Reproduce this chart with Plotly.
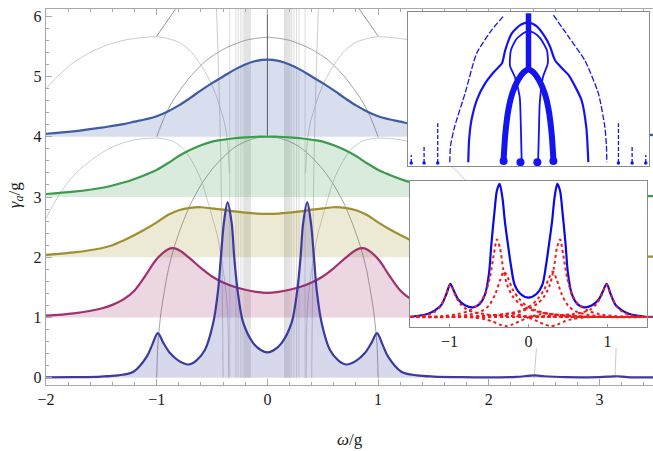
import plotly.graph_objects as go

# ---------------- main panel data ----------------
BOT_X = [-2.0, -1.75, -1.5, -1.35, -1.21, -1.09, -1.04, -0.99, -0.94, -0.88, -0.8, -0.715, -0.64, -0.565, -0.49, -0.445, -0.42, -0.393, -0.36, -0.323, -0.30, -0.27, -0.218, -0.128, -0.06,
         0.0, 0.06, 0.128, 0.218, 0.27, 0.30, 0.323, 0.36, 0.393, 0.42, 0.445, 0.49, 0.565, 0.64, 0.715, 0.8, 0.88, 0.94, 0.99, 1.04, 1.09,
         1.21, 1.35, 1.5, 1.75, 2.0, 2.25, 2.35, 2.42, 2.5, 2.7, 3.0, 3.1, 3.16, 3.25, 3.483]
BOT_Y = [0.005, 0.01, 0.02, 0.04, 0.1, 0.35, 0.55, 0.74, 0.58, 0.41, 0.28, 0.22, 0.29, 0.46, 0.91, 1.46, 2.01, 2.57, 2.91, 2.57, 2.01, 1.46, 0.91, 0.575, 0.46,
         0.42, 0.46, 0.575, 0.91, 1.46, 2.01, 2.57, 2.91, 2.57, 2.01, 1.46, 0.91, 0.46, 0.29, 0.22, 0.28, 0.41, 0.58, 0.74, 0.55, 0.35,
         0.1, 0.04, 0.02, 0.01, 0.008, 0.015, 0.03, 0.04, 0.025, 0.01, 0.012, 0.02, 0.025, 0.012, 0.005]

GRID_X = [-2.0, -1.75, -1.5, -1.4, -1.3, -1.2, -1.1, -1.0, -0.9, -0.8, -0.7, -0.6, -0.5, -0.4, -0.3, -0.2, -0.1,
          0.0, 0.1, 0.2, 0.3, 0.4, 0.5, 0.6, 0.7, 0.8, 0.9, 1.0, 1.1, 1.2, 1.3, 1.4, 1.5, 1.75, 2.0, 2.5, 3.0, 3.483]

MAG_X = [-2.0, -1.75, -1.5, -1.4, -1.3, -1.2, -1.1, -1.0, -0.9, -0.85, -0.8, -0.7, -0.6, -0.5, -0.4, -0.3, -0.2, -0.1,
         0.0, 0.1, 0.2, 0.3, 0.4, 0.5, 0.6, 0.7, 0.8, 0.85, 0.9, 1.0, 1.1, 1.2, 1.3, 1.4, 1.5, 1.75, 2.0, 2.5, 3.0, 3.483]
MAG_Y = [1.03, 1.07, 1.15, 1.21, 1.3, 1.45, 1.7, 1.97, 2.13, 2.15, 2.12, 1.98, 1.82, 1.68, 1.58, 1.51, 1.46, 1.425,
         1.41, 1.425, 1.46, 1.51, 1.58, 1.68, 1.82, 1.98, 2.12, 2.15, 2.13, 1.97, 1.7, 1.45, 1.3, 1.21, 1.15, 1.07, 1.03, 1.02, 1.015, 1.01]

OLV_Y = [2.04, 2.08, 2.15, 2.2, 2.28, 2.37, 2.47, 2.58, 2.7, 2.78, 2.82, 2.83, 2.81, 2.79, 2.76, 2.74, 2.725,
         2.72, 2.725, 2.74, 2.76, 2.79, 2.81, 2.83, 2.82, 2.78, 2.7, 2.58, 2.47, 2.37, 2.28, 2.2, 2.15, 2.08, 2.04, 2.02, 2.015, 2.01]

GRN_Y = [3.05, 3.09, 3.15, 3.19, 3.24, 3.3, 3.37, 3.45, 3.56, 3.68, 3.78, 3.86, 3.92, 3.95, 3.975, 3.99, 4.0,
         4.0, 4.0, 3.99, 3.975, 3.95, 3.92, 3.86, 3.78, 3.68, 3.56, 3.45, 3.37, 3.3, 3.24, 3.19, 3.15, 3.09, 3.05, 3.03, 3.02, 3.015]

TOP_Y = [4.05, 4.09, 4.15, 4.18, 4.21, 4.25, 4.29, 4.34, 4.42, 4.52, 4.64, 4.77, 4.89, 5.0, 5.11, 5.2, 5.26,
         5.28, 5.26, 5.2, 5.11, 5.0, 4.89, 4.77, 4.64, 4.52, 4.42, 4.34, 4.29, 4.25, 4.21, 4.18, 4.15, 4.09, 4.05, 4.04, 4.03, 4.03]

BASELINES = [0, 1, 2, 3, 4]

# gray eigenvalue trajectories
C0_X = [-1.0, -0.99, -0.96, -0.9, -0.85, -0.78, -0.7, -0.6, -0.5, -0.4, -0.3, -0.2, -0.1, 0.0, 0.1, 0.2, 0.3, 0.4, 0.5, 0.6, 0.7, 0.78, 0.85, 0.9, 0.96, 0.99, 1.0]
C0_Y = [0.0, 0.55, 1.1, 1.75, 2.12, 2.5, 2.86, 3.2, 3.46, 3.66, 3.82, 3.92, 3.98, 4.0, 3.98, 3.92, 3.82, 3.66, 3.46, 3.2, 2.86, 2.5, 2.12, 1.75, 1.1, 0.55, 0.0]
C1_X = [-1.0, -0.93, -0.85, -0.7, -0.55, -0.4, -0.2, 0.0, 0.2, 0.4, 0.55, 0.7, 0.85, 0.93, 1.0]
C1_Y = [4.0, 4.33, 4.61, 4.99, 5.27, 5.45, 5.6, 5.65, 5.6, 5.45, 5.27, 4.99, 4.61, 4.33, 4.0]
AL_X = [-2.0, -1.88, -1.76, -1.6, -1.45, -1.3, -1.2, -1.1, -1.0, -0.9, -0.79, -0.7, -0.63, -0.57, -0.51, -0.46, -0.42, -0.39, -0.37, -0.355, -0.345]
AR_X = [2.0, 1.88, 1.76, 1.6, 1.45, 1.3, 1.2, 1.1, 1.0, 0.9, 0.79, 0.7, 0.63, 0.57, 0.51, 0.46, 0.42, 0.39, 0.37, 0.355, 0.345]
A_Y = [4.8, 5.03, 5.22, 5.4, 5.52, 5.6, 5.63, 5.65, 5.66, 5.63, 5.56, 5.43, 5.27, 5.1, 4.89, 4.67, 4.44, 4.25, 4.06, 3.8, 3.4]
BL_X = [-2.0, -1.9, -1.8, -1.7, -1.6, -1.5, -1.4, -1.3, -1.2, -1.1, -1.0, -0.92, -0.85, -0.76, -0.7, -0.64, -0.59, -0.55, -0.5, -0.45, -0.42, -0.39, -0.37, -0.36, -0.352, -0.35]
BR_X = [2.0, 1.9, 1.8, 1.7, 1.6, 1.5, 1.4, 1.3, 1.2, 1.1, 1.0, 0.92, 0.85, 0.76, 0.7, 0.64, 0.59, 0.55, 0.5, 0.45, 0.42, 0.39, 0.37, 0.36, 0.352, 0.35]
B_Y = [2.65, 2.98, 3.25, 3.45, 3.6, 3.73, 3.83, 3.9, 3.95, 3.97, 3.98, 3.96, 3.92, 3.8, 3.65, 3.45, 3.24, 3.0, 2.68, 2.34, 2.02, 1.67, 1.35, 1.1, 0.6, 0.0]
SEGL_X = [-1.0, -0.93, -0.86, -0.83]
SEGR_X = [1.0, 0.93, 0.86, 0.83]
SEG_Y = [5.67, 5.86, 6.05, 6.12]
VERT_XS = [-0.34, -0.285, -0.263, -0.24, -0.22, -0.205, -0.195, -0.185, -0.175, -0.165, -0.155,
           0.155, 0.165, 0.175, 0.185, 0.195, 0.205, 0.22, 0.24, 0.263, 0.285, 0.34]
VERT_Y = [0.0, 6.12]
CURVL_X = [-0.46, -0.44, -0.42, -0.41, -0.40]
CURVR_X = [0.46, 0.44, 0.42, 0.41, 0.40]
CURV_Y = [6.12, 5.0, 3.5, 2.0, 0.0]
CENTER_X = [0.0, 0.0]
CENTER_Y = [4.0, 6.12]
STUB1_X = [2.41, 2.43]
STUB1_Y = [0.0, 0.49]
STUB2_X = [3.14, 3.15]
STUB2_Y = [0.0, 0.5]

X_TICKS = [-2, -1, 0, 1, 2, 3]
Y_TICKS = [0, 1, 2, 3, 4, 5, 6]

# ---------------- inset 1 (weights of trajectories) ----------------
IN1_CENTER_X = [0.0, 0.0]
IN1_CENTER_Y = [3.76, 5.95]
IN1_ARCH_X = [-0.31, -0.29, -0.25, -0.2, -0.13, -0.06, 0.0, 0.06, 0.13, 0.2, 0.25, 0.29, 0.31]
IN1_ARCH_Y = [0.25, 1.2, 2.2, 2.85, 3.35, 3.65, 3.76, 3.65, 3.35, 2.85, 2.2, 1.2, 0.25]
IN1_LOOP_X = [-0.085, -0.095, -0.11, -0.17, -0.23, -0.22, -0.15, -0.05, 0.0, 0.06, 0.14, 0.23, 0.24, 0.18, 0.14, 0.13, 0.12]
IN1_LOOP_Y = [0.2, 1.5, 2.7, 3.47, 3.9, 4.5, 4.95, 5.2, 5.24, 5.2, 5.0, 4.5, 4.0, 3.47, 2.45, 1.4, 0.2]
IN1_MID_X = [-0.75, -0.74, -0.71, -0.64, -0.54, -0.42, -0.33, -0.29, -0.21, -0.1, 0.0, 0.1, 0.205, 0.27, 0.33, 0.42, 0.5, 0.66, 0.72, 0.745]
IN1_MID_Y = [0.15, 1.0, 1.79, 2.6, 3.22, 3.7, 4.0, 4.51, 5.16, 5.5, 5.6, 5.45, 5.03, 4.64, 4.12, 3.8, 3.54, 2.57, 1.5, 0.15]
IN1_OUTL_X = [-0.98, -0.97, -0.92, -0.79, -0.645, -0.46, -0.30]
IN1_OUTL_Y = [0.15, 0.8, 1.53, 2.83, 4.39, 5.29, 5.88]
IN1_OUTR_X = [0.31, 0.5, 0.70, 0.87, 0.95, 0.97, 0.975]
IN1_OUTR_Y = [5.88, 5.03, 4.12, 2.83, 1.53, 0.8, 0.15]
IN1_STUB_X = [-1.46, -1.30, -1.13, 1.12, 1.29, 1.46]
IN1_STUB_TOP = [0.43, 0.74, 1.67, 1.67, 0.74, 0.43]
IN1_STUB_BOTTOM = 0.12
IN1_FOOT_X = [-0.31, -0.1, 0.11, 0.31]
IN1_FOOT_Y = [0.2, 0.15, 0.15, 0.2]

# ---------------- inset 2 (spectrum and its components) ----------------
IN2_BLUE_X = [-1.5, -1.27, -1.18, -1.1, -1.04, -0.99, -0.94, -0.89, -0.8, -0.7, -0.62, -0.55, -0.5, -0.47, -0.43, -0.4, -0.365, -0.33, -0.3, -0.26, -0.22, -0.175, -0.1,
              0.0, 0.1, 0.175, 0.22, 0.26, 0.3, 0.33, 0.365, 0.4, 0.43, 0.47, 0.5, 0.55, 0.62, 0.7, 0.8, 0.89, 0.94, 0.99, 1.04, 1.1, 1.18, 1.27, 1.5]
IN2_BLUE_Y = [0.0, 0.07, 0.15, 0.27, 0.5, 0.72, 0.55, 0.38, 0.25, 0.21, 0.28, 0.49, 0.95, 1.58, 2.3, 2.75, 2.9, 2.6, 2.1, 1.58, 1.1, 0.7, 0.5,
              0.42, 0.5, 0.7, 1.1, 1.58, 2.1, 2.6, 2.9, 2.75, 2.3, 1.58, 0.95, 0.49, 0.28, 0.21, 0.25, 0.38, 0.55, 0.72, 0.5, 0.27, 0.15, 0.07, 0.0]

R_OUT_L_X = [-1.5, -1.3, -1.2, -1.12, -1.06, -1.02, -0.99, -0.96, -0.92, -0.86, -0.78, -0.68, -0.55, -0.4, -0.2, 0.0, 0.3, 0.7, 1.1, 1.5]
R_OUT_L_Y = [0.0, 0.04, 0.1, 0.22, 0.42, 0.6, 0.7, 0.62, 0.45, 0.28, 0.16, 0.1, 0.06, 0.04, 0.02, 0.01, 0.005, 0.0, 0.0, 0.0]
R_OUT_R_X = [-1.5, -1.1, -0.7, -0.3, 0.0, 0.2, 0.4, 0.55, 0.68, 0.78, 0.86, 0.92, 0.96, 0.99, 1.02, 1.06, 1.12, 1.2, 1.3, 1.5]
R_OUT_R_Y = [0.0, 0.0, 0.0, 0.005, 0.01, 0.02, 0.04, 0.06, 0.1, 0.16, 0.28, 0.45, 0.62, 0.7, 0.6, 0.42, 0.22, 0.1, 0.04, 0.0]
R_A_L_X = [-1.5, -1.1, -0.9, -0.75, -0.63, -0.55, -0.49, -0.44, -0.4, -0.36, -0.32, -0.27, -0.2, -0.12, -0.03, 0.1, 0.3, 0.6, 1.0, 1.5]
R_A_L_Y = [0.0, 0.02, 0.06, 0.14, 0.28, 0.5, 0.85, 1.35, 1.69, 1.5, 1.05, 0.7, 0.45, 0.3, 0.2, 0.12, 0.06, 0.02, 0.0, 0.0]
R_A_R_X = [-1.5, -1.0, -0.6, -0.3, -0.1, 0.03, 0.12, 0.2, 0.27, 0.32, 0.36, 0.4, 0.44, 0.49, 0.55, 0.63, 0.75, 0.9, 1.1, 1.5]
R_A_R_Y = [0.0, 0.0, 0.02, 0.06, 0.12, 0.2, 0.3, 0.45, 0.7, 1.05, 1.5, 1.69, 1.35, 0.85, 0.5, 0.28, 0.14, 0.06, 0.02, 0.0]
R_B_L_X = [-1.5, -1.0, -0.75, -0.6, -0.5, -0.42, -0.36, -0.31, -0.26, -0.2, -0.12, -0.03, 0.1, 0.3, 0.6, 1.0, 1.5]
R_B_L_Y = [0.0, 0.0, 0.05, 0.12, 0.25, 0.5, 0.8, 0.99, 0.85, 0.6, 0.4, 0.25, 0.14, 0.06, 0.02, 0.0, 0.0]
R_B_R_X = [-1.5, -1.0, -0.6, -0.3, -0.1, 0.03, 0.12, 0.2, 0.26, 0.31, 0.36, 0.42, 0.5, 0.6, 0.75, 1.0, 1.5]
R_B_R_Y = [0.0, 0.0, 0.02, 0.06, 0.14, 0.25, 0.4, 0.6, 0.85, 0.99, 0.8, 0.5, 0.25, 0.12, 0.05, 0.0, 0.0]
R_D_L_X = [-1.5, -0.9, -0.7, -0.55, -0.45, -0.36, -0.28, -0.2, -0.12, -0.04, 0.05, 0.15, 0.25, 0.35, 0.5, 0.7, 1.0, 1.5]
R_D_L_Y = [0.0, 0.0, -0.01, -0.05, -0.1, -0.17, -0.2, -0.16, -0.1, -0.04, 0.02, 0.06, 0.07, 0.05, 0.02, 0.0, 0.0, 0.0]
R_D_R_X = [-1.5, -1.0, -0.7, -0.5, -0.35, -0.25, -0.15, -0.05, 0.04, 0.12, 0.2, 0.28, 0.36, 0.45, 0.55, 0.7, 0.9, 1.5]
R_D_R_Y = [0.0, 0.0, 0.0, 0.02, 0.05, 0.07, 0.06, 0.02, -0.04, -0.1, -0.16, -0.2, -0.17, -0.1, -0.05, -0.01, 0.0, 0.0]
R_ZERO_X = [-1.5, 0.0, 1.5]
R_ZERO_Y = [0.0, 0.0, 0.0]
IN2_TICKS = [-1, 0, 1]

# ---------------- styling ----------------
FONT = "Liberation Serif"
GRAY_LIGHT = "#C4C4C4"
GRAY_MID = "#B8B8B8"
GRAY_DARK = "#8A8A8A"
AXIS_GRAY = "#A8A8A8"

COLORS = ["#3B3B9E", "#A0306E", "#A08F2E", "#3A9B4F", "#3D5CA3"]


def rgba(hexc, a):
    h = hexc.lstrip("#")
    r, g, b = int(h[0:2], 16), int(h[2:4], 16), int(h[4:6], 16)
    return f"rgba({r},{g},{b},{a})"


fig = go.Figure()


def gray(x, y, color=GRAY_MID, width=0.8, smooth=True):
    line = dict(color=color, width=width)
    if smooth:
        line.update(shape="spline", smoothing=0.7)
    fig.add_trace(go.Scatter(x=x, y=y, mode="lines", line=line, hoverinfo="skip", showlegend=False))


# gray trajectories (behind everything)
for vx in VERT_XS:
    gray([vx, vx], VERT_Y, color=GRAY_MID, width=0.5, smooth=False)
gray(CURVL_X, CURV_Y, GRAY_MID, 0.7)
gray(CURVR_X, CURV_Y, GRAY_MID, 0.7)
gray(C0_X, C0_Y, GRAY_DARK, 0.8)
gray(C1_X, C1_Y, GRAY_DARK, 0.8)
gray(AL_X, A_Y, GRAY_LIGHT, 0.9)
gray(AR_X, A_Y, GRAY_LIGHT, 0.9)
gray(BL_X, B_Y, GRAY_LIGHT, 0.9)
gray(BR_X, B_Y, GRAY_LIGHT, 0.9)
gray(SEGL_X, SEG_Y, GRAY_DARK, 0.9, smooth=False)
gray(SEGR_X, SEG_Y, GRAY_DARK, 0.9, smooth=False)
gray(CENTER_X, CENTER_Y, "#6A6A6A", 1.1, smooth=False)
gray(STUB1_X, STUB1_Y, GRAY_LIGHT, 0.9, smooth=False)
gray(STUB2_X, STUB2_Y, GRAY_LIGHT, 0.9, smooth=False)

# filled spectra, top to bottom so that the lowest curve is drawn last
curves = [(GRID_X, TOP_Y, 1.0), (GRID_X, GRN_Y, 1.0), (GRID_X, OLV_Y, 1.0), (MAG_X, MAG_Y, 1.0), (BOT_X, BOT_Y, 0.9)]
bases = [BASELINES[4], BASELINES[3], BASELINES[2], BASELINES[1], BASELINES[0]]
cols = [COLORS[4], COLORS[3], COLORS[2], COLORS[1], COLORS[0]]
for (cx, cy, sm), b, c in zip(curves, bases, cols):
    fig.add_trace(go.Scatter(x=cx, y=[b] * len(cx), mode="lines", line=dict(width=0, color=c),
                             hoverinfo="skip", showlegend=False))
    fig.add_trace(go.Scatter(x=cx, y=cy, mode="lines", fill="tonexty", fillcolor=rgba(c, 0.2),
                             line=dict(color=c, width=2.2, shape="spline", smoothing=sm),
                             hoverinfo="skip", showlegend=False))

# ---------------- inset 1 ----------------
BLUE1 = "#1414F0"


def in1(x, y, width, dash="solid"):
    fig.add_trace(go.Scatter(x=x, y=y, xaxis="x2", yaxis="y2", mode="lines",
                             line=dict(color=BLUE1, width=width, dash=dash, shape="spline", smoothing=0.6),
                             hoverinfo="skip", showlegend=False))


in1(IN1_OUTL_X, IN1_OUTL_Y, 1.3, "6px,2px")
in1(IN1_OUTR_X, IN1_OUTR_Y, 1.3, "6px,2px")
for sx, st in zip(IN1_STUB_X, IN1_STUB_TOP):
    in1([sx, sx], [IN1_STUB_BOTTOM, st], 1.3, "4px,2px")
in1(IN1_MID_X, IN1_MID_Y, 2.2)
in1(IN1_LOOP_X, IN1_LOOP_Y, 1.8)
in1(IN1_ARCH_X, IN1_ARCH_Y, 6)
in1(IN1_CENTER_X, IN1_CENTER_Y, 5.5)
fig.add_trace(go.Scatter(x=IN1_FOOT_X, y=IN1_FOOT_Y, xaxis="x2", yaxis="y2", mode="markers",
                         marker=dict(color=BLUE1, size=8), hoverinfo="skip", showlegend=False))
fig.add_trace(go.Scatter(x=IN1_STUB_X, y=[IN1_STUB_BOTTOM] * len(IN1_STUB_X), xaxis="x2", yaxis="y2",
                         mode="markers", marker=dict(color=BLUE1, size=3.5), hoverinfo="skip", showlegend=False))

# ---------------- inset 2 ----------------
fig.add_trace(go.Scatter(x=IN2_BLUE_X, y=IN2_BLUE_Y, xaxis="x3", yaxis="y3", mode="lines",
                         line=dict(color="#0A0AE6", width=2.2, shape="spline", smoothing=0.8),
                         hoverinfo="skip", showlegend=False))
RED = "#EE1C1C"
for rx, ry in [(R_ZERO_X, R_ZERO_Y), (R_D_L_X, R_D_L_Y), (R_D_R_X, R_D_R_Y), (R_OUT_L_X, R_OUT_L_Y),
               (R_OUT_R_X, R_OUT_R_Y), (R_B_L_X, R_B_L_Y), (R_B_R_X, R_B_R_Y), (R_A_L_X, R_A_L_Y), (R_A_R_X, R_A_R_Y)]:
    fig.add_trace(go.Scatter(x=rx, y=ry, xaxis="x3", yaxis="y3", mode="lines",
                             line=dict(color=RED, width=2, dash="dot", shape="spline", smoothing=0.8),
                             hoverinfo="skip", showlegend=False))

tickfont = dict(family=FONT, size=16, color="#1a1a1a")

fig.update_layout(
    width=653, height=451,
    margin=dict(l=46, r=0, t=9, b=66),
    paper_bgcolor="white", plot_bgcolor="white",
    showlegend=False,
    font=dict(family=FONT),
    xaxis=dict(range=[-2, 3.483], tickvals=X_TICKS, ticks="inside", ticklen=6, tickcolor=AXIS_GRAY,
               showline=True, linecolor=AXIS_GRAY, linewidth=1.4, mirror="ticks",
               showgrid=False, zeroline=False, tickfont=tickfont, automargin=False,
               minor=dict(dtick=0.2, ticks="inside", ticklen=3, tickcolor=AXIS_GRAY, showgrid=False)),
    yaxis=dict(range=[-0.12, 6.12], tickvals=Y_TICKS, ticks="inside", ticklen=6, tickcolor=AXIS_GRAY,
               showline=True, linecolor=AXIS_GRAY, linewidth=1.4, mirror=False,
               showgrid=False, zeroline=False, tickfont=tickfont, automargin=False,
               minor=dict(dtick=0.2, ticks="inside", ticklen=3, tickcolor=AXIS_GRAY, showgrid=False)),
    xaxis2=dict(domain=[0.5964, 0.9934], anchor="y2", range=[-1.5, 1.5], showticklabels=False, ticks="",
                showline=True, mirror=True, linecolor="#8A8A8A", linewidth=1, showgrid=False, zeroline=False),
    yaxis2=dict(domain=[0.5824, 0.992], anchor="x2", range=[0, 6.0], showticklabels=False, ticks="",
                showline=True, mirror=True, linecolor="#8A8A8A", linewidth=1, showgrid=False, zeroline=False),
    xaxis3=dict(domain=[0.5997, 0.990], anchor="y3", range=[-1.5, 1.5], tickvals=IN2_TICKS, ticks="inside",
                ticklen=3, tickcolor="#999", showline=True, mirror=True, linecolor="#8A8A8A", linewidth=1,
                showgrid=False, zeroline=False, tickfont=tickfont),
    yaxis3=dict(domain=[0.1543, 0.5426], anchor="x3", range=[-0.218, 2.963], showticklabels=False, ticks="",
                showline=True, mirror=True, linecolor="#8A8A8A", linewidth=1, showgrid=False, zeroline=False),
    annotations=[
        dict(text="<i>ω</i>/g", xref="paper", yref="paper", x=0.5, y=-0.146, showarrow=False,
             xanchor="center", yanchor="middle", font=dict(family=FONT, size=17, color="#1a1a1a")),
        dict(text="<i>γ</i><sub><i>a</i></sub>/g", xref="paper", yref="paper", x=-0.0494, y=0.505,
             showarrow=False, textangle=-90, xanchor="center", yanchor="middle",
             font=dict(family=FONT, size=17, color="#1a1a1a")),
    ],
)

fig.write_html("out.html", config={"displayModeBar": False},
               post_script="document.body.style.margin='0px';document.body.style.overflow='hidden';")
